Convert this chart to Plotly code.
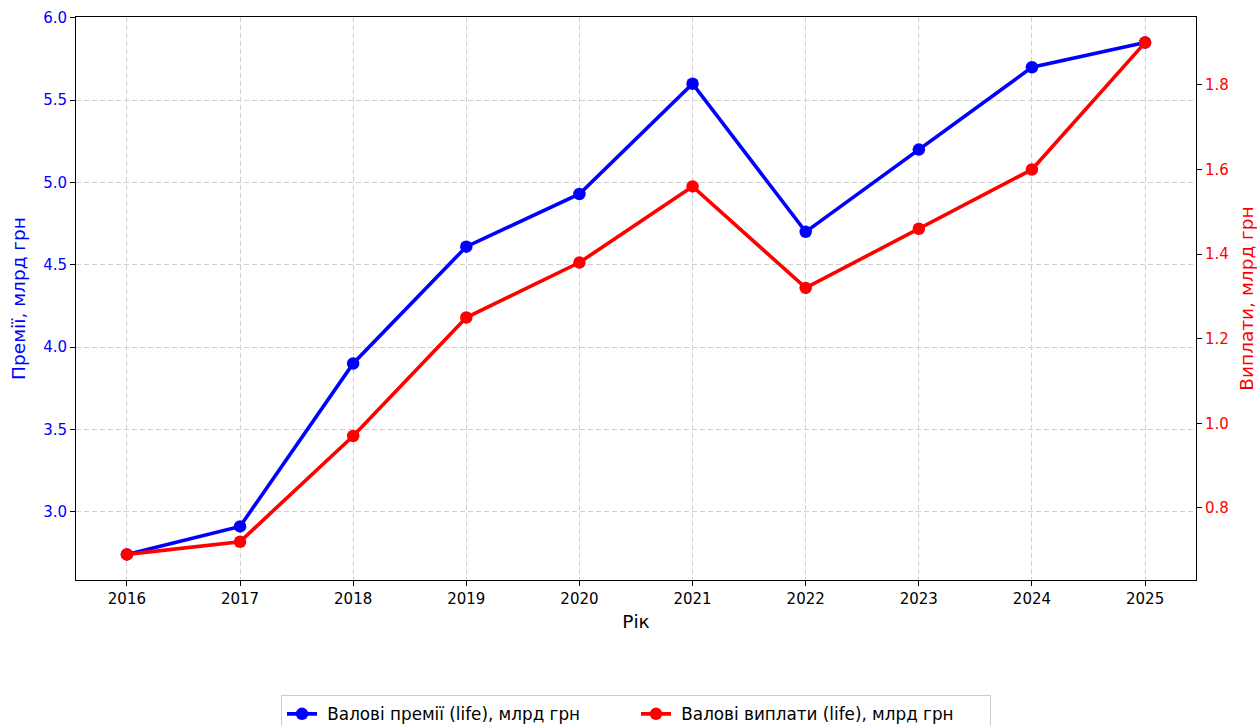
import plotly.graph_objects as go

years = [2016, 2017, 2018, 2019, 2020, 2021, 2022, 2023, 2024, 2025]
premiums = [2.74, 2.91, 3.90, 4.61, 4.93, 5.60, 4.70, 5.20, 5.70, 5.85]
payouts = [0.69, 0.72, 0.97, 1.25, 1.38, 1.56, 1.32, 1.46, 1.60, 1.90]
left_ticks = [3.0, 3.5, 4.0, 4.5, 5.0, 5.5, 6.0]
right_ticks = [0.8, 1.0, 1.2, 1.4, 1.6, 1.8]

font = "DejaVu Sans"
tick_size = 15
title_size = 18.5
fig = go.Figure()
fig.add_trace(go.Scatter(
    x=years, y=premiums, mode="lines+markers",
    name="\u00a0Валові премії (life), млрд грн",
    line=dict(color="#0000ff", width=3.6),
    marker=dict(size=12.5, color="#0000ff"),
    yaxis="y",
))
fig.add_trace(go.Scatter(
    x=years, y=payouts, mode="lines+markers",
    name="\u00a0Валові виплати (life), млрд грн",
    line=dict(color="#ff0000", width=3.6),
    marker=dict(size=12.5, color="#ff0000"),
    yaxis="y2",
))

grid = dict(showgrid=True, gridcolor="#cfcfcf", griddash="5px,3px", gridwidth=1)

fig.update_layout(
    width=1257, height=726,
    margin=dict(l=76, r=61, t=17, b=146, autoexpand=False),
    paper_bgcolor="white", plot_bgcolor="white",
    font=dict(family=font, size=tick_size, color="black"),
    showlegend=True,
    legend=dict(
        orientation="h", x=0.5, xanchor="center", y=-0.205, yanchor="top",
        bordercolor="#cccccc", borderwidth=1, bgcolor="white",
        font=dict(family=font, size=16.8, color="black"),
        entrywidth=309, entrywidthmode="pixels",
    ),
    xaxis=dict(
        range=[2015.55, 2025.45], tickvals=years, ticktext=[str(y) for y in years],
        showline=True, linecolor="black", linewidth=1, mirror=True,
        ticks="outside", ticklen=5, tickcolor="black", automargin=False,
        zeroline=False, **grid,
        title=dict(text="Рік", font=dict(family=font, size=title_size, color="black"), standoff=8),
        tickfont=dict(family=font, size=tick_size, color="black"),
    ),
    yaxis=dict(
        range=[2.5845, 6.0055], tickvals=left_ticks, ticktext=[f"{v:.1f}" for v in left_ticks],
        showline=True, linecolor="black", linewidth=1, automargin=False,
        ticks="outside", ticklen=5, tickcolor="black",
        zeroline=False, **grid,
        title=dict(text="Премії, млрд грн", font=dict(family=font, size=title_size, color="#0000ff"), standoff=12),
        tickfont=dict(family=font, size=tick_size, color="#0000ff"),
    ),
    yaxis2=dict(
        range=[0.6295, 1.9605], tickvals=right_ticks, ticktext=[f"{v:.1f}" for v in right_ticks],
        overlaying="y", side="right", automargin=False,
        showline=True, linecolor="black", linewidth=1,
        ticks="outside", ticklen=5, tickcolor="black",
        showgrid=False, zeroline=False,
        title=dict(text="Виплати, млрд грн", font=dict(family=font, size=title_size, color="#ff0000"), standoff=12),
        tickfont=dict(family=font, size=tick_size, color="#ff0000"),
    ),
)

fig.write_html(
    "out.html",
    config={"displayModeBar": False},
    post_script="document.body.style.margin='0';document.body.style.overflow='hidden';",
)
